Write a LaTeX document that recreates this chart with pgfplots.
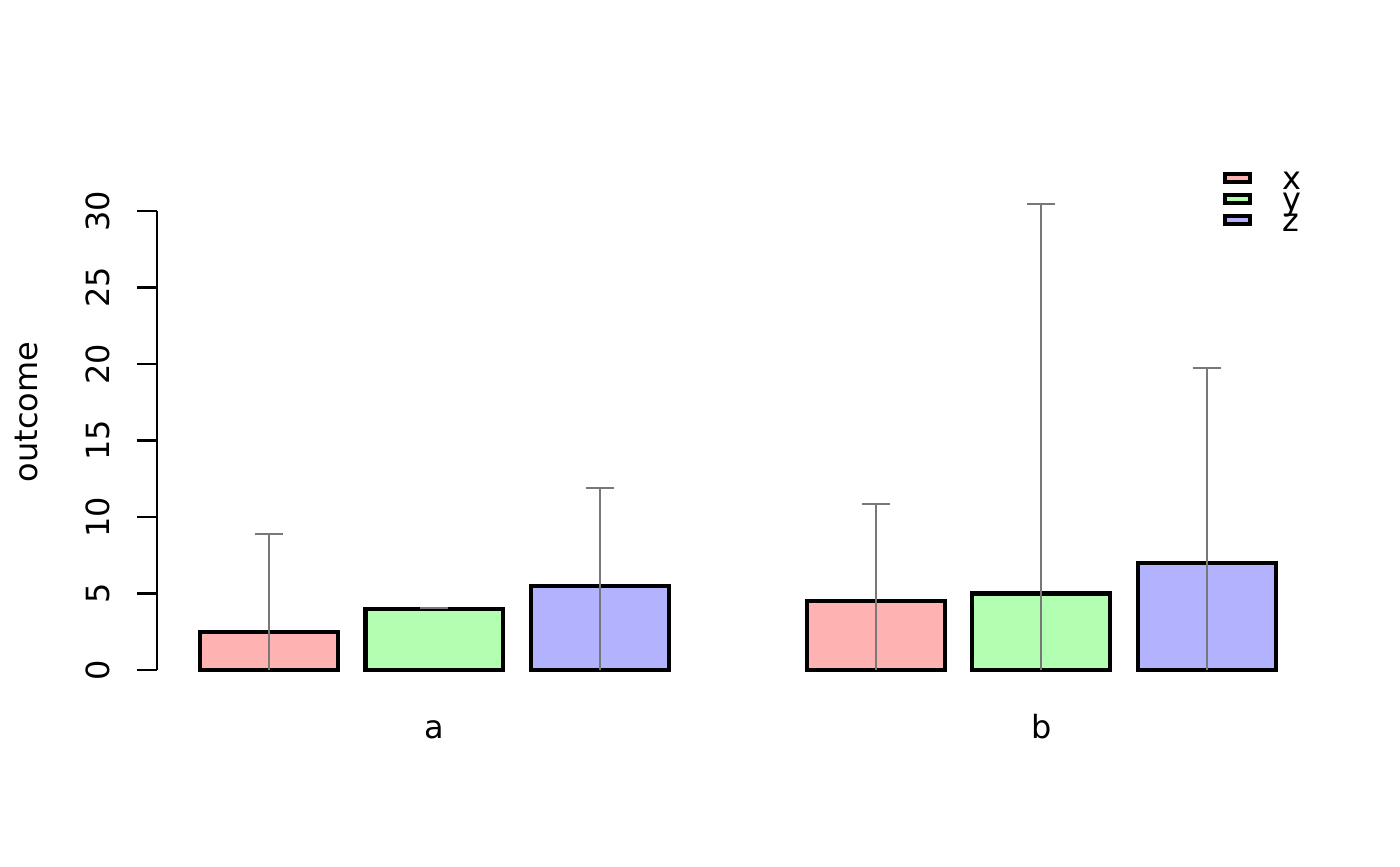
\documentclass[border=0pt]{standalone}
\usepackage{fontspec}
\setmainfont{DejaVu Sans}
\usepackage{pgfplots}
\pgfplotsset{compat=1.18}
\definecolor{cx}{rgb}{1,0.7,0.7}
\definecolor{cy}{rgb}{0.7,1,0.7}
\definecolor{cz}{rgb}{0.7,0.7,1}
\definecolor{eb}{gray}{0.47}
\pgfplotsset{
  mybar/.style={ybar, bar width=1, bar shift=0pt, draw=black, line width=1.5pt,
    legend image code/.code={\draw[##1, line width=1.5pt] (0pt,0.85pt) rectangle (9pt,3.55pt);}},
  myerr/.style={draw=none, mark=none, forget plot,
    error bars/.cd, y dir=plus, y explicit, error mark=|,
    error bar style={draw=eb, line width=0.75pt},
    error mark options={draw=eb, line width=0.75pt, mark size=5.04pt}},
}
\begin{document}
\fontsize{11.5}{13.8}\selectfont
\begin{tikzpicture}
\useasboundingbox (0,0) rectangle (504pt,311.76pt);
\begin{axis}[
  at={(56.52pt,70.56pt)}, anchor=south west,
  scale only axis, width=418.21pt, height=165.24pt,
  xmin=0.688, xmax=9.112, ymin=0, ymax=30,
  clip=false,
  axis lines*=left,
  x axis line style={draw=none},
  y axis line style={line width=0.75pt},
  xtick={2.7,7.1}, xticklabels={a,b},
  xtick style={draw=none},
  xticklabel style={anchor=base, inner sep=0pt},
  xticklabel shift=24.7pt,
  ytick={0,5,...,30},
  ytick align=outside,
  ytick style={line width=0.75pt, black},
  major tick length=7.2pt,
  yticklabel style={rotate=90, anchor=south, inner sep=0pt},
  yticklabel shift=9.54pt,
  /pgf/number format/assume math mode=true,
  ylabel={outcome},
  ylabel style={at={(axis description cs:-0.1029,0.562)}, anchor=base, inner sep=0pt},
  legend style={draw=none, fill=none, inner sep=0pt, outer sep=0pt,
    at={(axis cs:8.418,32.53)}, anchor=north west,
    cells={anchor=west},
    nodes={inner sep=0pt, text height=5.56pt, text depth=2pt},
    row sep=-0.52pt,
    /tikz/every odd column/.append style={column sep=10.8pt}},
]
\addplot[mybar, fill=cx] coordinates {(1.5,2.5) (5.9,4.5)};
\addlegendentry{x}
\addplot[mybar, fill=cy] coordinates {(2.7,4) (7.1,5)};
\addlegendentry{y}
\addplot[mybar, fill=cz] coordinates {(3.9,5.5) (8.3,7)};
\addlegendentry{z}
\addplot[myerr] coordinates {
  (1.5,0) +- (0,8.89)
  (2.7,3.97) +- (0,0.06)
  (3.9,0) +- (0,11.87)
  (5.9,0) +- (0,10.85)
  (7.1,0) +- (0,30.46)
  (8.3,0) +- (0,19.76)
};
\end{axis}
\end{tikzpicture}
\end{document}
